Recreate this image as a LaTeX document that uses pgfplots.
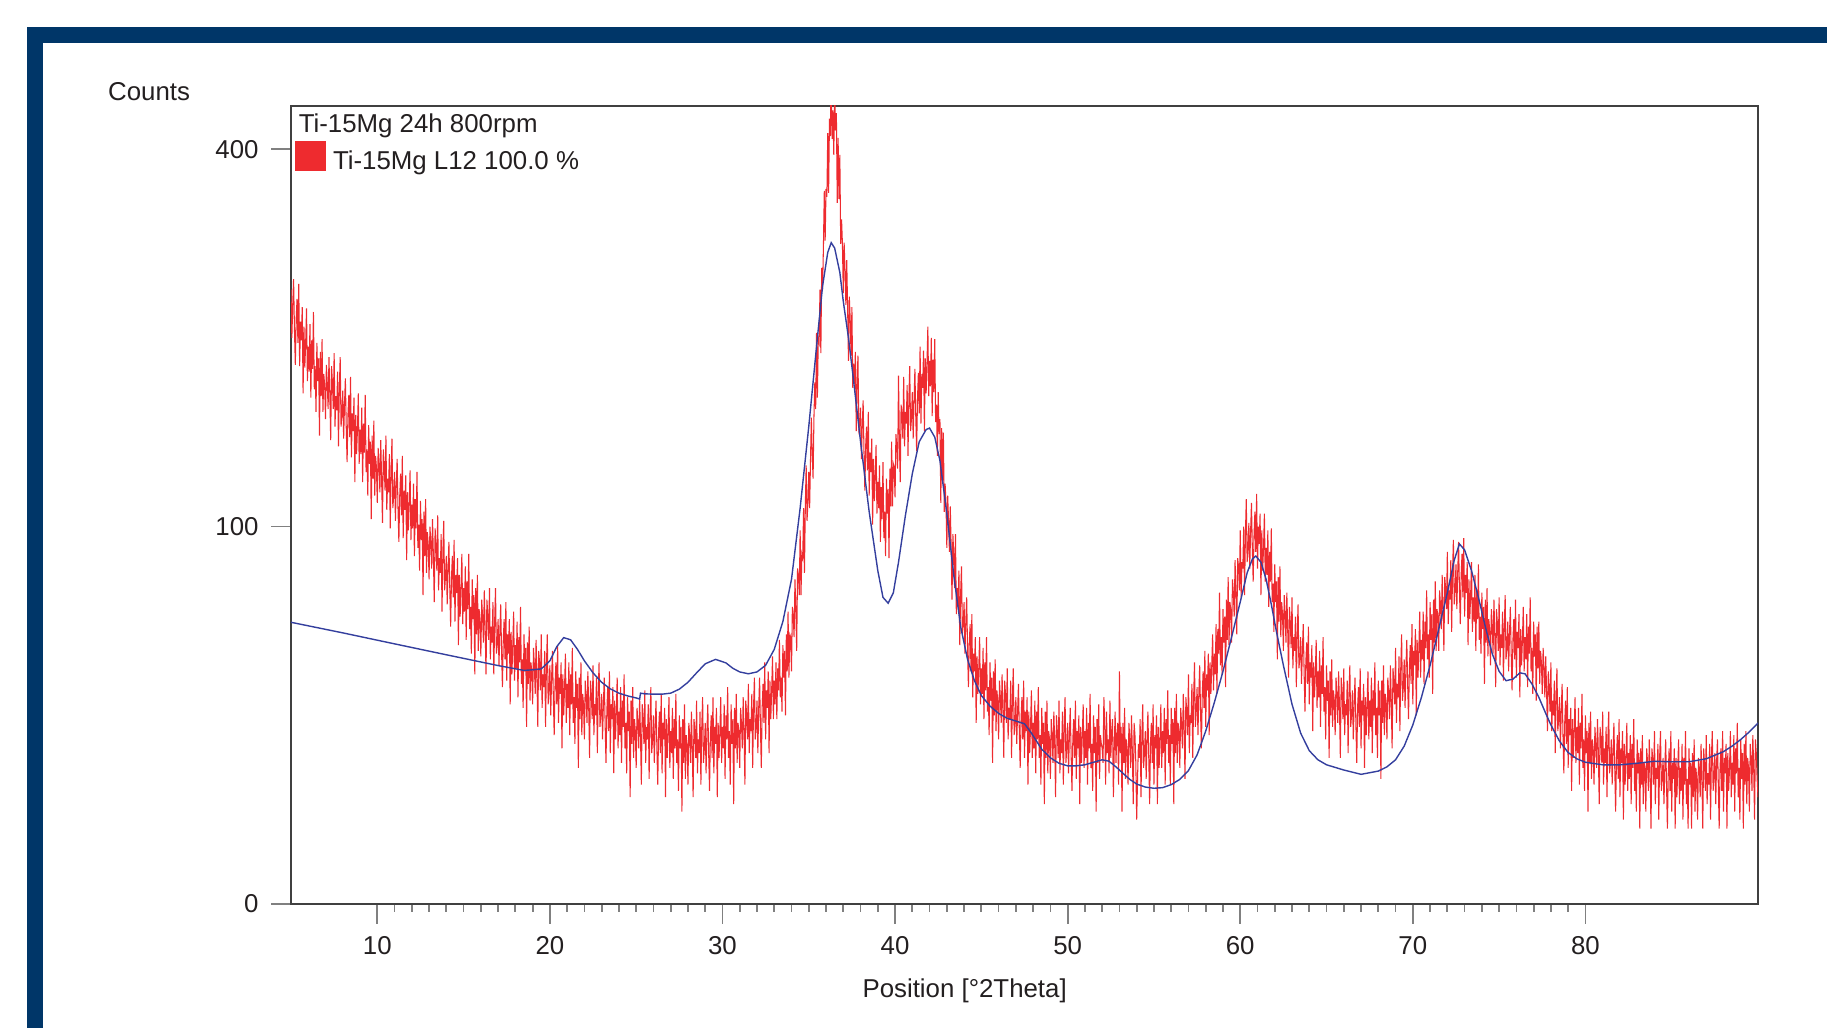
\documentclass[border=0pt]{standalone}
\usepackage{fontspec}
\setmainfont{Liberation Sans}
\usepackage{pgfplots}
\pgfplotsset{compat=1.18}
\definecolor{frameblue}{HTML}{003668}
\definecolor{obsred}{HTML}{EE2B2F}
\definecolor{calcblue}{HTML}{343F9E}
\definecolor{txt}{HTML}{231F20}
\newcommand\lf{\fontsize{7.35pt}{8.8pt}\selectfont}

\begin{document}
\begin{tikzpicture}
\path[use as bounding box] (0,0) rectangle (182.7mm,102.8mm);
% frame of the report page
\fill[frameblue] (2.7mm,98.5mm) rectangle (182.7mm,100.1mm);
\fill[frameblue] (2.7mm,0mm) rectangle (4.3mm,100.1mm);

\begin{axis}[
  at={(29.1mm,12.4mm)}, anchor=south west,
  scale only axis, width=146.7mm, height=79.8mm,
  xmin=5, xmax=90, ymin=0, ymax=447,
  y coord trafo/.code={\pgfmathparse{sqrt(#1)}},
  y coord inv trafo/.code={\pgfmathparse{(#1)^2}},
  xtick={10,20,...,80}, minor x tick num=9,
  ytick={0,100,400}, yticklabels={0,100,400},
  xtick pos=left, ytick pos=left,
  tick align=outside,
  major tick length=2mm, minor tick length=0.8mm,
  tick style={black!50, line width=0.5pt},
  axis line style={draw=black!75, line width=0.6pt},
  tick label style={font=\lf, text=txt, /pgf/number format/assume math mode=true},
  xlabel={Position [°2Theta]}, ylabel={Counts},
  every axis x label/.style={at={(axis description cs:0.4592,-0.1085)}, anchor=center, font=\lf, text=txt},
  every axis y label/.style={at={(axis description cs:-0.0967,1.0183)}, anchor=center, font=\lf, text=txt},
  legend style={at={(axis description cs:0.0027,0.9348)}, anchor=west,
    draw=none, fill=none, inner sep=0pt, outer sep=0pt, font=\lf, text=txt,
    nodes={inner sep=0pt},
    /tikz/every odd column/.append style={column sep=0.7mm}},
  legend cell align=left,
]
% observed pattern
\addplot[obsred, line width=0.3pt,
  legend image code/.code={\fill[obsred] (0mm,-0.75mm) rectangle (3mm,2.15mm);}]
coordinates {
(5.00,265)(5.05,225)(5.10,252)(5.15,274)(5.20,232)(5.25,204)(5.30,240)(5.35,257)(5.40,221)(5.45,270)(5.50,203)(5.55,238)(5.60,223)(5.65,250)(5.70,183)(5.75,234)(5.80,202)(5.85,221)(5.90,249)(5.95,192)
(6.00,218)(6.05,199)(6.10,236)(6.15,180)(6.20,223)(6.25,201)(6.30,246)(6.35,186)(6.40,203)(6.45,170)(6.50,221)(6.55,192)(6.60,209)(6.65,154)(6.70,214)(6.75,181)(6.80,224)(6.85,170)(6.90,197)(6.95,189)
(7.00,165)(7.05,204)(7.10,191)(7.15,172)(7.20,210)(7.25,182)(7.30,151)(7.35,203)(7.40,191)(7.45,172)(7.50,213)(7.55,160)(7.60,181)(7.65,171)(7.70,199)(7.75,147)(7.80,186)(7.85,210)(7.90,160)(7.95,168)
(8.00,185)(8.05,152)(8.10,175)(8.15,194)(8.20,160)(8.25,137)(8.30,168)(8.35,182)(8.40,153)(8.45,195)(8.50,140)(8.55,169)(8.60,157)(8.65,180)(8.70,125)(8.75,168)(8.80,142)(8.85,158)(8.90,183)(8.95,136)
(9.00,158)(9.05,142)(9.10,173)(9.15,125)(9.20,162)(9.25,143)(9.30,182)(9.35,131)(9.40,145)(9.45,117)(9.50,161)(9.55,136)(9.60,150)(9.65,104)(9.70,154)(9.75,127)(9.80,164)(9.85,117)(9.90,141)(9.95,134)
(10.00,113)(10.05,146)(10.10,136)(10.15,119)(10.20,151)(10.25,127)(10.30,102)(10.35,145)(10.40,135)(10.45,120)(10.50,154)(10.55,109)(10.60,127)(10.65,119)(10.70,142)(10.75,99)(10.80,131)(10.85,152)(10.90,110)(10.95,117)
(11.00,131)(11.05,103)(11.10,123)(11.15,139)(11.20,110)(11.25,92)(11.30,117)(11.35,130)(11.40,106)(11.45,141)(11.50,94)(11.55,120)(11.60,109)(11.65,129)(11.70,83)(11.75,119)(11.80,98)(11.85,112)(11.90,132)(11.95,93)
(12.00,112)(12.05,99)(12.10,124)(12.15,85)(12.20,115)(12.25,99)(12.30,131)(12.35,89)(12.40,101)(12.45,78)(12.50,114)(12.55,93)(12.60,104)(12.65,67)(12.70,108)(12.75,85)(12.80,115)(12.85,77)(12.90,97)(12.95,91)
(13.00,74)(13.05,100)(13.10,92)(13.15,79)(13.20,104)(13.25,85)(13.30,64)(13.35,99)(13.40,91)(13.45,78)(13.50,106)(13.55,69)(13.60,84)(13.65,77)(13.70,96)(13.75,60)(13.80,87)(13.85,103)(13.90,69)(13.95,75)
(14.00,85)(14.05,63)(14.10,79)(14.15,92)(14.20,70)(14.25,54)(14.30,75)(14.35,85)(14.40,66)(14.45,93)(14.50,56)(14.55,76)(14.60,68)(14.65,84)(14.70,47)(14.75,76)(14.80,58)(14.85,70)(14.90,86)(14.95,55)
(15.00,70)(15.05,60)(15.10,80)(15.15,49)(15.20,73)(15.25,61)(15.30,86)(15.35,53)(15.40,62)(15.45,44)(15.50,74)(15.55,57)(15.60,67)(15.65,37)(15.70,70)(15.75,51)(15.80,76)(15.85,45)(15.90,61)(15.95,56)
(16.00,43)(16.05,65)(16.10,58)(16.15,48)(16.20,69)(16.25,53)(16.30,37)(16.35,65)(16.40,59)(16.45,49)(16.50,70)(16.55,42)(16.60,54)(16.65,48)(16.70,64)(16.75,37)(16.80,56)(16.85,70)(16.90,44)(16.95,47)
(17.00,57)(17.05,40)(17.10,52)(17.15,63)(17.20,45)(17.25,33)(17.30,49)(17.35,57)(17.40,42)(17.45,64)(17.50,35)(17.55,51)(17.60,44)(17.65,57)(17.70,28)(17.75,52)(17.80,37)(17.85,47)(17.90,60)(17.95,35)
(18.00,47)(18.05,39)(18.10,56)(18.15,30)(18.20,50)(18.25,41)(18.30,62)(18.35,34)(18.40,42)(18.45,27)(18.50,51)(18.55,38)(18.60,46)(18.65,22)(18.70,48)(18.75,34)(18.80,54)(18.85,29)(18.90,41)(18.95,38)
(19.00,28)(19.05,46)(19.10,40)(19.15,31)(19.20,49)(19.25,36)(19.30,22)(19.35,45)(19.40,41)(19.45,32)(19.50,51)(19.55,27)(19.60,37)(19.65,33)(19.70,45)(19.75,22)(19.80,40)(19.85,51)(19.90,28)(19.95,32)
(20.00,40)(20.05,25)(20.10,36)(20.15,45)(20.20,30)(20.25,20)(20.30,34)(20.35,41)(20.40,28)(20.45,47)(20.50,23)(20.55,36)(20.60,31)(20.65,41)(20.70,17)(20.75,37)(20.80,25)(20.85,33)(20.90,44)(20.95,23)
(21.00,34)(21.05,27)(21.10,41)(21.15,20)(21.20,37)(21.25,28)(21.30,46)(21.35,23)(21.40,30)(21.45,18)(21.50,38)(21.55,27)(21.60,34)(21.65,13)(21.70,36)(21.75,24)(21.80,41)(21.85,20)(21.90,31)(21.95,28)
(22.00,19)(22.05,35)(22.10,30)(22.15,23)(22.20,38)(22.25,27)(22.30,15)(22.35,35)(22.40,31)(22.45,24)(22.50,40)(22.55,20)(22.60,28)(22.65,25)(22.70,36)(22.75,16)(22.80,31)(22.85,41)(22.90,22)(22.95,25)
(23.00,31)(23.05,19)(23.10,28)(23.15,36)(23.20,23)(23.25,14)(23.30,26)(23.35,33)(23.40,21)(23.45,38)(23.50,16)(23.55,28)(23.60,24)(23.65,33)(23.70,12)(23.75,29)(23.80,19)(23.85,26)(23.90,36)(23.95,17)
(24.00,26)(24.05,20)(24.10,33)(24.15,14)(24.20,29)(24.25,22)(24.30,37)(24.35,17)(24.40,23)(24.45,12)(24.50,30)(24.55,21)(24.60,26)(24.65,8)(24.70,29)(24.75,18)(24.80,33)(24.85,15)(24.90,24)(24.95,21)
(25.00,13)(25.05,27)(25.10,23)(25.15,17)(25.20,30)(25.25,20)(25.30,10)(25.35,28)(25.40,24)(25.45,18)(25.50,32)(25.55,14)(25.60,22)(25.65,19)(25.70,28)(25.75,11)(25.80,24)(25.85,33)(25.90,16)(25.95,19)
(26.00,25)(26.05,14)(26.10,22)(26.15,29)(26.20,17)(26.25,10)(26.30,21)(26.35,26)(26.40,16)(26.45,31)(26.50,12)(26.55,23)(26.60,19)(26.65,27)(26.70,8)(26.75,24)(26.80,15)(26.85,21)(26.90,30)(26.95,13)
(27.00,21)(27.05,16)(27.10,27)(27.15,11)(27.20,24)(27.25,17)(27.30,31)(27.35,14)(27.40,19)(27.45,9)(27.50,25)(27.55,17)(27.60,22)(27.65,6)(27.70,24)(27.75,14)(27.80,28)(27.85,11)(27.90,20)(27.95,18)
(28.00,10)(28.05,23)(28.10,20)(28.15,14)(28.20,26)(28.25,17)(28.30,8)(28.35,24)(28.40,21)(28.45,15)(28.50,29)(28.55,12)(28.60,19)(28.65,16)(28.70,26)(28.75,10)(28.80,22)(28.85,30)(28.90,14)(28.95,17)
(29.00,23)(29.05,12)(29.10,21)(29.15,28)(29.20,16)(29.25,9)(29.30,20)(29.35,25)(29.40,15)(29.45,30)(29.50,12)(29.55,22)(29.60,18)(29.65,27)(29.70,8)(29.75,23)(29.80,15)(29.85,21)(29.90,30)(29.95,14)
(30.00,22)(30.05,17)(30.10,28)(30.15,11)(30.20,25)(30.25,19)(30.30,33)(30.35,15)(30.40,21)(30.45,10)(30.50,28)(30.55,18)(30.60,24)(30.65,7)(30.70,27)(30.75,17)(30.80,31)(30.85,14)(30.90,23)(30.95,21)
(31.00,13)(31.05,27)(31.10,23)(31.15,17)(31.20,30)(31.25,21)(31.30,10)(31.35,29)(31.40,25)(31.45,19)(31.50,34)(31.55,16)(31.60,24)(31.65,21)(31.70,31)(31.75,13)(31.80,27)(31.85,36)(31.90,19)(31.95,22)
(32.00,29)(32.05,16)(32.10,27)(32.15,36)(32.20,22)(32.25,13)(32.30,27)(32.35,34)(32.40,23)(32.45,41)(32.50,19)(32.55,32)(32.60,27)(32.65,38)(32.70,16)(32.75,35)(32.80,24)(32.85,32)(32.90,43)(32.95,24)
(33.00,35)(33.05,28)(33.10,41)(33.15,24)(33.20,39)(33.25,32)(33.30,49)(33.35,30)(33.40,36)(33.45,26)(33.50,47)(33.55,36)(33.60,45)(33.65,25)(33.70,51)(33.75,38)(33.80,60)(33.85,36)(33.90,51)(33.95,50)
(34.00,38)(34.05,62)(34.10,58)(34.15,50)(34.20,74)(34.25,61)(34.30,45)(34.35,79)(34.40,76)(34.45,67)(34.50,98)(34.55,67)(34.60,86)(34.65,84)(34.70,110)(34.75,77)(34.80,111)(34.85,135)(34.90,103)(34.95,113)
(35.00,131)(35.05,110)(35.10,138)(35.15,166)(35.20,142)(35.25,127)(35.30,166)(35.35,191)(35.40,172)(35.45,229)(35.50,180)(35.55,224)(35.60,221)(35.65,265)(35.70,213)(35.75,284)(35.80,265)(35.85,304)(35.90,357)(35.95,309)
(36.00,359)(36.05,351)(36.10,417)(36.15,355)(36.20,433)(36.25,414)(36.30,490)(36.35,411)(36.40,442)(36.45,394)(36.50,467)(36.55,420)(36.60,439)(36.65,345)(36.70,412)(36.75,349)(36.80,394)(36.85,306)(36.90,329)(36.95,306)
(37.00,262)(37.05,307)(37.10,282)(37.15,252)(37.20,291)(37.25,250)(37.30,207)(37.35,259)(37.40,240)(37.45,211)(37.50,250)(37.55,187)(37.60,205)(37.65,190)(37.70,214)(37.75,157)(37.80,191)(37.85,211)(37.90,158)(37.95,161)
(38.00,173)(38.05,139)(38.10,160)(38.15,178)(38.20,143)(38.25,120)(38.30,148)(38.35,160)(38.40,132)(38.45,170)(38.50,117)(38.55,143)(38.60,131)(38.65,152)(38.70,101)(38.75,139)(38.80,114)(38.85,128)(38.90,148)(38.95,107)
(39.00,125)(39.05,110)(39.10,135)(39.15,92)(39.20,122)(39.25,104)(39.30,137)(39.35,94)(39.40,108)(39.45,85)(39.50,127)(39.55,107)(39.60,121)(39.65,84)(39.70,133)(39.75,111)(39.80,150)(39.85,111)(39.90,136)(39.95,134)
(40.00,116)(40.05,155)(40.10,147)(40.15,133)(40.20,196)(40.25,150)(40.30,125)(40.35,175)(40.40,168)(40.45,152)(40.50,195)(40.55,147)(40.60,170)(40.65,162)(40.70,189)(40.75,141)(40.80,179)(40.85,203)(40.90,157)(40.95,165)
(41.00,184)(41.05,152)(41.10,178)(41.15,201)(41.20,167)(41.25,144)(41.30,179)(41.35,198)(41.40,169)(41.45,218)(41.50,162)(41.55,197)(41.60,187)(41.65,215)(41.70,157)(41.75,209)(41.80,183)(41.85,205)(41.90,234)(41.95,181)
(42.00,207)(42.05,188)(42.10,225)(42.15,167)(42.20,208)(42.25,184)(42.30,224)(42.35,163)(42.40,175)(42.45,141)(42.50,184)(42.55,155)(42.60,165)(42.65,113)(42.70,159)(42.75,126)(42.80,156)(42.85,108)(42.90,124)(42.95,113)
(43.00,89)(43.05,117)(43.10,103)(43.15,87)(43.20,111)(43.25,89)(43.30,65)(43.35,96)(43.40,86)(43.45,70)(43.50,96)(43.55,59)(43.60,70)(43.65,62)(43.70,78)(43.75,47)(43.80,68)(43.85,80)(43.90,51)(43.95,55)
(44.00,64)(44.05,44)(44.10,56)(44.15,66)(44.20,46)(44.25,33)(44.30,48)(44.35,55)(44.40,38)(44.45,59)(44.50,30)(44.55,44)(44.60,38)(44.65,50)(44.70,23)(44.75,43)(44.80,31)(44.85,39)(44.90,50)(44.95,28)
(45.00,39)(45.05,31)(45.10,46)(45.15,24)(45.20,41)(45.25,32)(45.30,50)(45.35,26)(45.40,33)(45.45,20)(45.50,41)(45.55,29)(45.60,36)(45.65,14)(45.70,38)(45.75,25)(45.80,42)(45.85,21)(45.90,32)(45.95,29)
(46.00,19)(46.05,35)(46.10,30)(46.15,23)(46.20,37)(46.25,27)(46.30,15)(46.35,35)(46.40,31)(46.45,23)(46.50,39)(46.55,19)(46.60,27)(46.65,24)(46.70,35)(46.75,15)(46.80,30)(46.85,39)(46.90,20)(46.95,23)
(47.00,30)(47.05,18)(47.10,26)(47.15,34)(47.20,21)(47.25,13)(47.30,24)(47.35,30)(47.40,19)(47.45,35)(47.50,15)(47.55,26)(47.60,21)(47.65,30)(47.70,10)(47.75,26)(47.80,16)(47.85,22)(47.90,32)(47.95,15)
(48.00,23)(48.05,17)(48.10,29)(48.15,12)(48.20,26)(48.25,19)(48.30,33)(48.35,15)(48.40,20)(48.45,10)(48.50,27)(48.55,18)(48.60,23)(48.65,7)(48.70,26)(48.75,15)(48.80,29)(48.85,12)(48.90,21)(48.95,19)
(49.00,11)(49.05,24)(49.10,20)(49.15,14)(49.20,26)(49.25,18)(49.30,8)(49.35,25)(49.40,21)(49.45,15)(49.50,29)(49.55,12)(49.60,19)(49.65,16)(49.70,26)(49.75,10)(49.80,22)(49.85,30)(49.90,14)(49.95,17)
(50.00,23)(50.05,12)(50.10,20)(50.15,27)(50.20,16)(50.25,9)(50.30,19)(50.35,24)(50.40,15)(50.45,29)(50.50,11)(50.55,21)(50.60,17)(50.65,25)(50.70,7)(50.75,22)(50.80,14)(50.85,20)(50.90,28)(50.95,13)
(51.00,21)(51.05,15)(51.10,27)(51.15,10)(51.20,23)(51.25,17)(51.30,31)(51.35,13)(51.40,18)(51.45,9)(51.50,25)(51.55,16)(51.60,22)(51.65,6)(51.70,24)(51.75,14)(51.80,28)(51.85,11)(51.90,20)(51.95,18)
(52.00,17)(52.05,14)(52.10,30)(52.15,22)(52.20,10)(52.25,26)(52.30,16)(52.35,19)(52.40,12)(52.45,29)(52.50,15)(52.55,21)(52.60,24)(52.65,8)(52.70,17)(52.75,26)(52.80,14)(52.85,20)(52.90,23)(52.95,10)
(53.00,38)(53.05,16)(53.10,22)(53.15,6)(53.20,23)(53.25,14)(53.30,27)(53.35,11)(53.40,19)(53.45,17)(53.50,10)(53.55,23)(53.60,19)(53.65,13)(53.70,25)(53.75,16)(53.80,7)(53.85,23)(53.90,20)(53.95,14)
(54.00,5)(54.05,11)(54.10,18)(54.15,15)(54.20,24)(54.25,8)(54.30,20)(54.35,28)(54.40,13)(54.45,16)(54.50,21)(54.55,11)(54.60,19)(54.65,26)(54.70,15)(54.75,7)(54.80,18)(54.85,23)(54.90,14)(54.95,28)
(55.00,10)(55.05,20)(55.10,17)(55.15,25)(55.20,7)(55.25,22)(55.30,13)(55.35,19)(55.40,28)(55.45,13)(55.50,21)(55.55,16)(55.60,27)(55.65,10)(55.70,24)(55.75,18)(55.80,32)(55.85,14)(55.90,20)(55.95,10)
(56.00,27)(56.05,18)(56.10,24)(56.15,7)(56.20,27)(56.25,16)(56.30,31)(56.35,14)(56.40,23)(56.45,21)(56.50,13)(56.55,27)(56.60,23)(56.65,17)(56.70,31)(56.75,22)(56.80,11)(56.85,30)(56.90,26)(56.95,20)
(57.00,37)(57.05,16)(57.10,25)(57.15,23)(57.20,34)(57.25,15)(57.30,30)(57.35,41)(57.40,22)(57.45,26)(57.50,33)(57.55,20)(57.60,31)(57.65,40)(57.70,26)(57.75,17)(57.80,31)(57.85,38)(57.90,27)(57.95,45)
(58.00,22)(58.05,37)(58.10,32)(58.15,44)(58.20,20)(58.25,41)(58.30,31)(58.35,40)(58.40,51)(58.45,32)(58.50,44)(58.55,37)(58.60,55)(58.65,31)(58.70,53)(58.75,44)(58.80,68)(58.85,40)(58.90,50)(58.95,37)
(59.00,61)(59.05,48)(59.10,58)(59.15,33)(59.20,65)(59.25,49)(59.30,75)(59.35,47)(59.40,64)(59.45,61)(59.50,48)(59.55,74)(59.60,68)(59.65,58)(59.70,83)(59.75,68)(59.80,51)(59.85,84)(59.90,80)(59.95,69)
(60.00,98)(60.05,66)(60.10,82)(60.15,79)(60.20,100)(60.25,67)(60.30,96)(60.35,115)(60.40,82)(60.45,88)(60.50,102)(60.55,79)(60.60,97)(60.65,113)(60.70,89)(60.75,73)(60.80,96)(60.85,108)(60.90,87)(60.95,118)
(61.00,79)(61.05,100)(61.10,91)(61.15,107)(61.20,67)(61.25,98)(61.30,78)(61.35,89)(61.40,107)(61.45,73)(61.50,89)(61.55,76)(61.60,98)(61.65,62)(61.70,87)(61.75,73)(61.80,99)(61.85,64)(61.90,72)(61.95,52)
(62.00,81)(62.05,64)(62.10,73)(62.15,42)(62.20,75)(62.25,56)(62.30,80)(62.35,50)(62.40,64)(62.45,59)(62.50,45)(62.55,67)(62.60,59)(62.65,48)(62.70,68)(62.75,53)(62.80,36)(62.85,62)(62.90,56)(62.95,46)
(63.00,66)(63.05,39)(63.10,50)(63.15,45)(63.20,58)(63.25,33)(63.30,51)(63.35,63)(63.40,39)(63.45,42)(63.50,50)(63.55,34)(63.60,45)(63.65,55)(63.70,38)(63.75,26)(63.80,41)(63.85,48)(63.90,34)(63.95,54)
(64.00,28)(64.05,41)(64.10,36)(64.15,47)(64.20,21)(64.25,41)(64.30,30)(64.35,37)(64.40,49)(64.45,27)(64.50,38)(64.55,30)(64.60,45)(64.65,22)(64.70,40)(64.75,31)(64.80,50)(64.85,26)(64.90,33)(64.95,19)
(65.00,40)(65.05,29)(65.10,35)(65.15,15)(65.20,38)(65.25,25)(65.30,42)(65.35,22)(65.40,32)(65.45,29)(65.50,20)(65.55,36)(65.60,31)(65.65,23)(65.70,38)(65.75,27)(65.80,15)(65.85,36)(65.90,31)(65.95,24)
(66.00,39)(66.05,20)(66.10,28)(66.15,25)(66.20,35)(66.25,16)(66.30,31)(66.35,40)(66.40,22)(66.45,25)(66.50,32)(66.55,19)(66.60,28)(66.65,36)(66.70,23)(66.75,14)(66.80,27)(66.85,33)(66.90,22)(66.95,39)
(67.00,17)(67.05,29)(67.10,25)(67.15,34)(67.20,13)(67.25,30)(67.30,20)(67.35,28)(67.40,38)(67.45,19)(67.50,29)(67.55,22)(67.60,36)(67.65,16)(67.70,32)(67.75,25)(67.80,41)(67.85,20)(67.90,27)(67.95,15)
(68.00,35)(68.05,25)(68.10,32)(68.15,11)(68.20,35)(68.25,23)(68.30,40)(68.35,20)(68.40,31)(68.45,28)(68.50,19)(68.55,36)(68.60,31)(68.65,24)(68.70,40)(68.75,29)(68.80,17)(68.85,39)(68.90,35)(68.95,28)
(69.00,46)(69.05,23)(69.10,34)(69.15,30)(69.20,43)(69.25,21)(69.30,39)(69.35,51)(69.40,29)(69.45,33)(69.50,42)(69.55,27)(69.60,39)(69.65,49)(69.70,34)(69.75,24)(69.80,39)(69.85,47)(69.90,34)(69.95,55)
(70.00,28)(70.05,45)(70.10,40)(70.15,53)(70.20,25)(70.25,49)(70.30,36)(70.35,46)(70.40,60)(70.45,36)(70.50,49)(70.55,42)(70.60,60)(70.65,34)(70.70,56)(70.75,46)(70.80,69)(70.85,42)(70.90,51)(70.95,36)
(71.00,64)(71.05,49)(71.10,59)(71.15,31)(71.20,65)(71.25,48)(71.30,73)(71.35,45)(71.40,61)(71.45,58)(71.50,45)(71.55,69)(71.60,63)(71.65,53)(71.70,76)(71.75,61)(71.80,45)(71.85,75)(71.90,70)(71.95,61)
(72.00,87)(72.05,55)(72.10,69)(72.15,65)(72.20,83)(72.25,52)(72.30,77)(72.35,93)(72.40,63)(72.45,69)(72.50,81)(72.55,61)(72.60,77)(72.65,92)(72.70,70)(72.75,55)(72.80,76)(72.85,86)(72.90,66)(72.95,94)
(73.00,58)(73.05,76)(73.10,68)(73.15,82)(73.20,47)(73.25,74)(73.30,57)(73.35,67)(73.40,82)(73.45,52)(73.50,66)(73.55,56)(73.60,76)(73.65,45)(73.70,69)(73.75,57)(73.80,81)(73.85,49)(73.90,58)(73.95,44)
(74.00,68)(74.05,53)(74.10,62)(74.15,34)(74.20,65)(74.25,48)(74.30,70)(74.35,43)(74.40,57)(74.45,53)(74.50,40)(74.55,61)(74.60,55)(74.65,44)(74.70,65)(74.75,50)(74.80,33)(74.85,61)(74.90,55)(74.95,45)
(75.00,66)(75.05,40)(75.10,51)(75.15,46)(75.20,60)(75.25,35)(75.30,54)(75.35,67)(75.40,42)(75.45,46)(75.50,56)(75.55,38)(75.60,51)(75.65,62)(75.70,44)(75.75,32)(75.80,49)(75.85,57)(75.90,42)(75.95,65)
(76.00,36)(76.05,52)(76.10,46)(76.15,59)(76.20,30)(76.25,53)(76.30,40)(76.35,49)(76.40,62)(76.45,38)(76.50,50)(76.55,42)(76.60,59)(76.65,33)(76.70,54)(76.75,44)(76.80,66)(76.85,38)(76.90,46)(76.95,31)
(77.00,56)(77.05,43)(77.10,51)(77.15,29)(77.20,54)(77.25,39)(77.30,56)(77.35,34)(77.40,45)(77.45,41)(77.50,31)(77.55,46)(77.60,39)(77.65,30)(77.70,43)(77.75,32)(77.80,21)(77.85,38)(77.90,33)(77.95,26)
(78.00,41)(78.05,21)(78.10,29)(78.15,25)(78.20,35)(78.25,16)(78.30,30)(78.35,39)(78.40,21)(78.45,24)(78.50,30)(78.55,17)(78.60,26)(78.65,34)(78.70,20)(78.75,12)(78.80,23)(78.85,29)(78.90,18)(78.95,33)
(79.00,13)(79.05,24)(79.10,20)(79.15,27)(79.20,9)(79.25,24)(79.30,15)(79.35,21)(79.40,30)(79.45,14)(79.50,22)(79.55,16)(79.60,27)(79.65,10)(79.70,23)(79.75,17)(79.80,31)(79.85,13)(79.90,19)(79.95,9)
(80.00,25)(80.05,16)(80.10,21)(80.15,6)(80.20,23)(80.25,14)(80.30,26)(80.35,11)(80.40,19)(80.45,17)(80.50,10)(80.55,22)(80.60,18)(80.65,13)(80.70,24)(80.75,16)(80.80,7)(80.85,22)(80.90,19)(80.95,14)
(81.00,26)(81.05,10)(81.10,17)(81.15,14)(81.20,22)(81.25,8)(81.30,19)(81.35,26)(81.40,12)(81.45,14)(81.50,19)(81.55,10)(81.60,16)(81.65,23)(81.70,13)(81.75,6)(81.80,15)(81.85,20)(81.90,11)(81.95,24)
(82.00,8)(82.05,17)(82.10,14)(82.15,21)(82.20,5)(82.25,18)(82.30,10)(82.35,15)(82.40,23)(82.45,9)(82.50,16)(82.55,11)(82.60,20)(82.65,7)(82.70,18)(82.75,13)(82.80,24)(82.85,9)(82.90,14)(82.95,6)
(83.00,19)(83.05,12)(83.10,16)(83.15,4)(83.20,17)(83.25,10)(83.30,20)(83.35,7)(83.40,14)(83.45,13)(83.50,6)(83.55,17)(83.60,14)(83.65,9)(83.70,19)(83.75,12)(83.80,4)(83.85,17)(83.90,15)(83.95,10)
(84.00,21)(84.05,7)(84.10,13)(84.15,11)(84.20,18)(84.25,5)(84.30,15)(84.35,21)(84.40,9)(84.45,11)(84.50,15)(84.55,7)(84.60,13)(84.65,19)(84.70,10)(84.75,4)(84.80,12)(84.85,17)(84.90,9)(84.95,21)
(85.00,6)(85.05,14)(85.10,11)(85.15,17)(85.20,4)(85.25,15)(85.30,8)(85.35,13)(85.40,19)(85.45,7)(85.50,13)(85.55,9)(85.60,18)(85.65,5)(85.70,15)(85.75,10)(85.80,21)(85.85,7)(85.90,11)(85.95,4)
(86.00,17)(86.05,10)(86.10,14)(86.15,4)(86.20,16)(86.25,8)(86.30,19)(86.35,6)(86.40,13)(86.45,11)(86.50,5)(86.55,15)(86.60,13)(86.65,8)(86.70,18)(86.75,11)(86.80,4)(86.85,17)(86.90,14)(86.95,9)
(87.00,20)(87.05,7)(87.10,12)(87.15,10)(87.20,18)(87.25,5)(87.30,15)(87.35,21)(87.40,9)(87.45,11)(87.50,16)(87.55,7)(87.60,14)(87.65,19)(87.70,10)(87.75,4)(87.80,13)(87.85,17)(87.90,9)(87.95,21)
(88.00,6)(88.05,15)(88.10,12)(88.15,18)(88.20,4)(88.25,16)(88.30,9)(88.35,13)(88.40,21)(88.45,8)(88.50,14)(88.55,10)(88.60,20)(88.65,6)(88.70,17)(88.75,12)(88.80,23)(88.85,8)(88.90,13)(88.95,5)
(89.00,19)(89.05,11)(89.10,16)(89.15,4)(89.20,18)(89.25,10)(89.30,21)(89.35,7)(89.40,15)(89.45,13)(89.50,6)(89.55,18)(89.60,15)(89.65,9)(89.70,20)(89.75,13)(89.80,5)(89.85,19)(89.90,16)(89.95,11)
(90.00,8)
};
\addlegendentry{Ti-15Mg L12 100.0 \%}
% calculated profile
\addplot[calcblue, line width=0.4pt, forget plot] coordinates {
(5.0,55.7)(8.0,51.6)(11.0,47.5)(14.0,43.6)(17.0,39.9)(18.5,38.3)(19.0,38.5)(19.5,38.8)
(20.0,41.5)(20.4,46.5)(20.8,49.8)(21.2,49.0)(21.6,45.5)(22.0,41.5)(22.5,37.5)(23.0,34.5)
(23.5,32.5)(24.0,31.2)(24.5,30.4)(25.0,29.8)(25.2,29.5)(25.25,31.2)(25.5,31.0)(26.0,30.9)
(26.5,30.9)(27.0,31.2)(27.5,32.4)(28.0,34.5)(28.5,37.5)(29.0,40.5)(29.6,42.0)(30.2,40.8)
(30.6,39.0)(31.0,37.8)(31.5,37.2)(32.0,37.8)(32.5,40.0)(33.0,45.5)(33.5,56)(34.0,74)
(34.5,110)(35.0,160)(35.5,225)(35.8,268)(36.1,298)(36.3,307)(36.5,302)(36.8,280)
(37.0,255)(37.3,225)(37.6,192)(38.0,150)(38.5,108)(39.0,78)(39.3,66)(39.6,63.5)
(39.9,68)(40.2,82)(40.6,106)(41.0,130)(41.4,150)(41.8,158)(42.0,159)(42.3,153)
(42.6,138)(43.0,107)(43.4,76)(43.8,54)(44.2,42)(44.6,35)(45.0,30.5)(45.5,27.5)
(46.0,25.5)(46.5,24.2)(47.0,23.5)(47.5,22.8)(47.9,20.5)(48.5,16.8)(49.0,15)(49.5,13.9)
(50.0,13.4)(50.5,13.4)(51.0,13.6)(51.5,14.1)(52.0,14.6)(52.4,14.3)(52.8,13.2)(53.2,12.0)
(53.6,10.9)(54.0,10.1)(54.5,9.6)(55.0,9.4)(55.5,9.5)(56.0,10.0)(56.5,10.9)(57.0,12.5)
(57.5,15.6)(58.0,21)(58.5,28.5)(59.0,38)(59.5,50)(60.0,64)(60.4,77)(60.7,83.5)
(60.9,85)(61.2,82)(61.5,74)(61.8,63)(62.1,52)(62.5,40)(63.0,28)(63.5,20.5)
(64.0,16.5)(64.5,14.6)(65.0,13.6)(66.0,12.6)(67.0,11.8)(68.0,12.4)(68.5,13.2)(69.0,14.6)
(69.5,17.5)(70.0,22.5)(70.5,30)(71.0,40)(71.5,53)(72.0,68)(72.4,83)(72.7,91)
(73.0,88)(73.4,78)(73.8,66)(74.2,54)(74.6,44)(75.0,38)(75.4,35)(75.8,35.5)
(76.2,37.5)(76.5,37.2)(76.9,34)(77.3,30)(77.7,25.5)(78.0,22.5)(78.5,18.6)(79.0,16.1)
(79.5,14.8)(80.0,14.1)(81.0,13.6)(82.0,13.6)(83.0,13.9)(84.0,14.3)(85.0,14.2)(86.0,14.2)
(87.0,14.8)(88.0,16.3)(88.5,17.5)(89.0,19.0)(89.5,20.8)(90.0,23)
};
\node[anchor=base west, inner sep=0pt, font=\lf, text=txt]
  at (axis description cs:0.0048,0.9662) {Ti-15Mg 24h 800rpm};
\end{axis}
\end{tikzpicture}
\end{document}
